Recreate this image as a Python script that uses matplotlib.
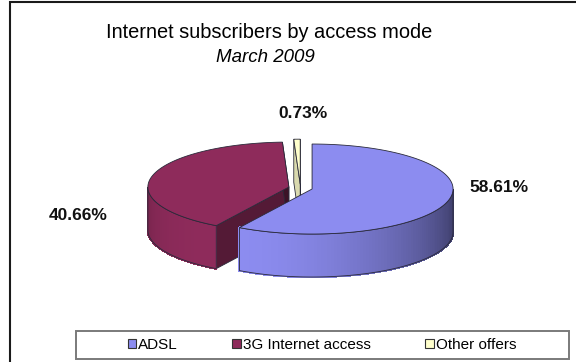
import numpy as np
import matplotlib
matplotlib.use("Agg")
import matplotlib.pyplot as plt
from matplotlib.patches import Polygon, Rectangle, Patch
from matplotlib.colors import to_rgb

plt.rcParams['font.family'] = ['Liberation Sans Narrow', 'Liberation Sans', 'DejaVu Sans']

# data
categories = ['ADSL', '3G Internet access', 'Other offers']
shares = [58.61, 40.66, 0.73]
pct_labels = ['58.61%', '40.66%', '0.73%']
top_colors = ['#8C8CF0', '#8E2B5B', '#FFFFCC']

# pie geometry in pixels (axes uses pixel coords)
CX, CY = 300.5, 188.0
RX, RY = 141.0, 45.0
DEPTH = 43.0
EXPLODE = 0.085


def rim(cx, cy, t):
    r = np.radians(t)
    return cx + RX * np.sin(r), cy - RY * np.cos(r)


def shade(color, normal_deg):
    b = 0.62 + 0.38 * np.cos(np.radians(normal_deg - 215))
    b = min(max(b, 0.42), 1.0)
    return tuple(c * b for c in to_rgb(color))


fig = plt.figure(figsize=(5.76, 3.62), dpi=100)
ax = fig.add_axes([0, 0, 1, 1])
ax.set_xlim(0, 576)
ax.set_ylim(362, 0)
ax.axis('off')

edge = '#2a2a3a'

# slice angles, clockwise from 12 o'clock
bounds = np.concatenate([[0], np.cumsum(shares)]) / sum(shares) * 360
slices = []
for i in range(len(shares)):
    a0, a1 = bounds[i], bounds[i + 1]
    m = np.radians((a0 + a1) / 2)
    cx = CX + EXPLODE * RX * np.sin(m)
    cy = CY - EXPLODE * RY * np.cos(m)
    slices.append((cy, i, a0, a1, cx))

# back to front
for cy, i, a0, a1, cx in sorted(slices):
    col = top_colors[i]

    # radial faces
    for a, normal in [(a0, a0 - 90), (a1, a1 + 90)]:
        if np.cos(np.radians(normal)) < 0.05:
            rx_, ry_ = rim(cx, cy, a)
            quad = [(cx, cy), (rx_, ry_), (rx_, ry_ + DEPTH), (cx, cy + DEPTH)]
            ax.add_patch(Polygon(quad, closed=True, facecolor=shade(col, normal),
                                 edgecolor=edge, lw=0.6, zorder=2))

    # outer wall (front half only), shaded in thin strips
    w0, w1 = max(a0, 90), min(a1, 270)
    if w1 > w0:
        ts = np.linspace(w0, w1, 90)
        for j in range(len(ts) - 1):
            xa, ya = rim(cx, cy, ts[j])
            xb, yb = rim(cx, cy, ts[j + 1])
            q = [(xa, ya), (xb, yb), (xb, yb + DEPTH), (xa, ya + DEPTH)]
            c = shade(col, (ts[j] + ts[j + 1]) / 2)
            ax.add_patch(Polygon(q, closed=True, facecolor=c, edgecolor=c,
                                 lw=1.0, antialiased=False, zorder=2))
        xs, ys = rim(cx, cy, ts)
        outline = list(zip(xs, ys)) + list(zip(xs[::-1], ys[::-1] + DEPTH))
        ax.add_patch(Polygon(outline, closed=True, fill=False, edgecolor=edge,
                             lw=0.6, zorder=2))

    # top face
    ts = np.linspace(a0, a1, 200)
    xs, ys = rim(cx, cy, ts)
    top = [(cx, cy)] + list(zip(xs, ys))
    ax.add_patch(Polygon(top, closed=True, facecolor=col, edgecolor=edge,
                         lw=0.6, zorder=2))

# percentage labels
label_pos = [(499, 188), (78, 215), (303, 113)]
for (x, y), txt in zip(label_pos, pct_labels):
    ax.text(x, y, txt, ha='center', va='center', fontsize=12.5,
            fontweight='bold', color='#111111', zorder=5)

# titles
ax.text(269, 32, 'Internet subscribers by access mode', ha='center',
        va='center', fontsize=14.4, color='black')
ax.text(265, 58, 'March 2009', ha='center', va='center', fontsize=13.5,
        style='italic', color='black')

# outer chart frame (cut off on right and bottom)
ax.plot([10, 10, 576], [362, 1.5, 1.5], color='#1a1a1a', lw=1.5,
        solid_joinstyle='miter', zorder=1)

# legend
ax.add_patch(Rectangle((76, 331), 493, 28, fill=False, edgecolor='#7a7a7a',
                       lw=1.4, zorder=3))
handles = [Patch(facecolor=c, edgecolor='#333333', lw=0.8) for c in top_colors]
ax.legend(handles, categories, loc='center', bbox_to_anchor=(322 / 576, 1 - 345 / 362),
          ncol=3, frameon=False, fontsize=11, handlelength=0.55,
          handleheight=0.55, handletextpad=0.15, columnspacing=3.55)

fig.savefig('out.png', dpi=100)
